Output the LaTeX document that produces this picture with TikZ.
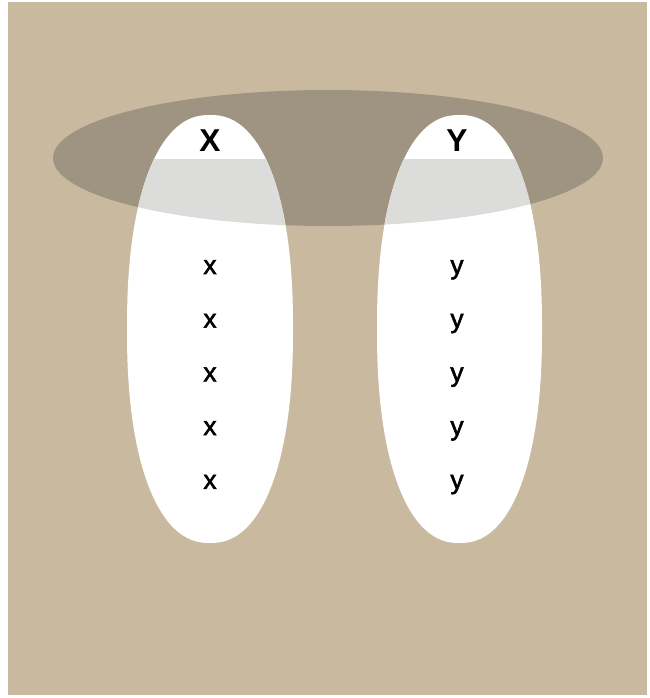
\documentclass[tikz,border=0pt]{standalone}
\usepackage{fontspec}
\setmainfont{Liberation Sans}
\newfontfamily\itemfont{Liberation Sans}[FakeBold=2]
\definecolor{sand}{RGB}{201,186,159}
\definecolor{taupe}{RGB}{159,148,129}
\definecolor{band}{RGB}{220,220,219}
\begin{document}
\begin{tikzpicture}
\useasboundingbox (0,0) rectangle (13,13.96);
% ---------- background ----------
\fill[sand] (0.16,0.06) rectangle (12.94,13.92);
% ---------- the wide ellipse across the top ----------
\def\ry{1.36}
\fill[taupe] (6.56,10.8) ellipse (5.5 and \ry);
% ---------- the two columns (slightly squared ellipses) ----------
\foreach \cx/\rx in {4.2/1.66, 9.19/1.65} {
  \def\column{plot[domain=0.5:360.5, samples=240, smooth]
    ({\cx+\rx*sign(cos(\x))*abs(cos(\x))^0.88}, {7.38+4.28*sign(sin(\x))*abs(sin(\x))^0.88}) -- cycle}
  \fill[white] \column;
  % overlap with the wide ellipse, below the header cap
  \begin{scope}
    \clip \column;
    \clip (0,0) rectangle (13,10.76);
    \fill[band] (6.56,10.8) ellipse (5.5 and \ry);
  \end{scope}
}
% headers
\node[anchor=base, font=\bfseries\fontsize{18}{20}\selectfont] (headX) at (4.2,10.93) {X};
\node[anchor=base, font=\bfseries\fontsize{18}{20}\selectfont] (headY) at (9.14,10.93) {Y};
% the elements
\foreach \i in {1,...,5} {
  \pgfmathsetmacro{\y}{8.48-1.074*(\i-1)}
  \node[anchor=base, font=\itemfont\fontsize{15}{17}\selectfont] (x\i) at (4.2,\y) {x};
  \node[anchor=base, font=\itemfont\fontsize{15}{17}\selectfont] (y\i) at (9.14,\y) {y};
}
\end{tikzpicture}
\end{document}
